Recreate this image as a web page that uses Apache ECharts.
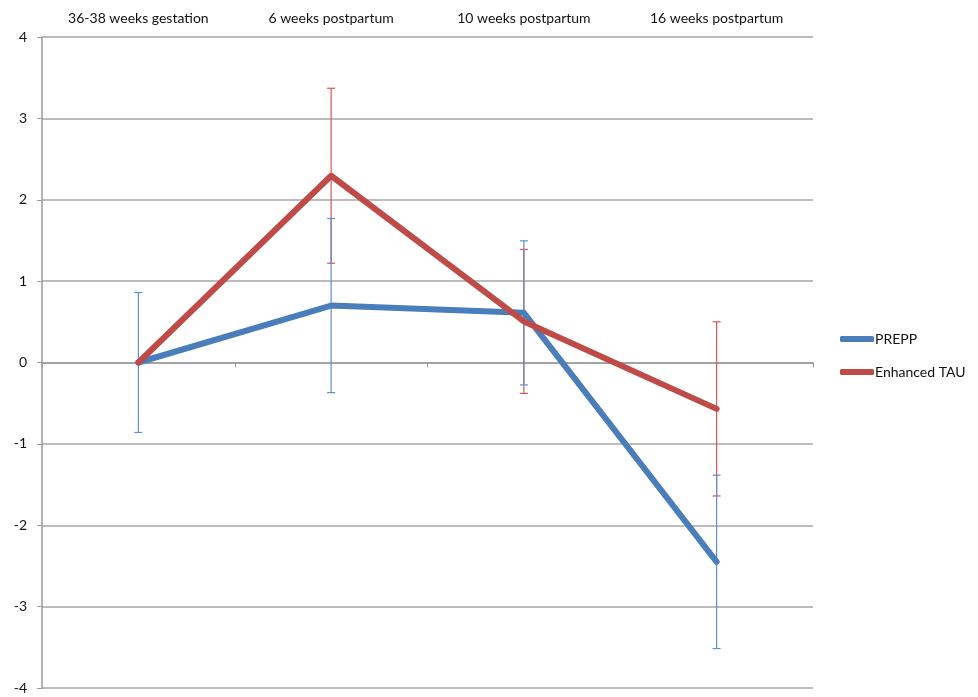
<!DOCTYPE html>
<html>
<head>
<meta charset="utf-8">
<script src="https://cdn.jsdelivr.net/npm/echarts@6/dist/echarts.min.js"></script>
<style>html,body{margin:0;padding:0;background:#fff;}#c{width:978px;height:697px;}</style>
</head>
<body>
<div id="c"></div>
<script>
var categories = ['36-38 weeks gestation', '6 weeks postpartum', '10 weeks postpartum', '16 weeks postpartum'];
var prepp = [0, 0.70, 0.61, -2.45];
var preppErr = [0.86, 1.07, 0.885, 1.065];
var tau = [0, 2.295, 0.505, -0.57];
var tauErr = [null, 1.075, 0.885, 1.07];
var yTicks = [-4, -3, -2, -1, 0, 1, 2, 3, 4];

var FONT = 'Lato, "Open Sans", "Liberation Sans", sans-serif';
var BLUE = '#4A7EBB', RED = '#BE4B48';
var BLUE_E = '#5E8FD0', RED_E = '#DD5555';

function errData(means, errs) {
  var out = [];
  for (var i = 0; i < means.length; i++) {
    if (errs[i] == null) continue;
    out.push([i, means[i] - errs[i], means[i] + errs[i]]);
  }
  return out;
}
function errSeries(name, data, color, z) {
  return {
    type: 'custom', name: name + ' err', xAxisIndex: 0, z: z, silent: true,
    data: data,
    encode: { x: 0, y: [1, 2] },
    renderItem: function (params, api) {
      var lo = api.coord([api.value(0), api.value(1)]);
      var hi = api.coord([api.value(0), api.value(2)]);
      var w = 4;
      var st = { stroke: color, lineWidth: 1.2 };
      return { type: 'group', children: [
        { type: 'line', shape: { x1: lo[0], y1: lo[1], x2: hi[0], y2: hi[1] }, style: st },
        { type: 'line', shape: { x1: lo[0] - w, y1: lo[1], x2: lo[0] + w, y2: lo[1] }, style: st },
        { type: 'line', shape: { x1: hi[0] - w, y1: hi[1], x2: hi[0] + w, y2: hi[1] }, style: st }
      ]};
    }
  };
}

var chart = echarts.init(document.getElementById('c'));
chart.setOption({
  animation: false,
  backgroundColor: '#fff',
  grid: { left: 42, right: 165, top: 37, bottom: 9 },
  legend: {
    orient: 'vertical', left: 835, top: 327, itemGap: 19,
    itemWidth: 34, itemHeight: 6,
    icon: 'roundRect',
    textStyle: { fontFamily: FONT, fontSize: 14, color: '#111', padding: [0, 0, 0, -4] },
    data: ['PREPP', 'Enhanced TAU']
  },
  xAxis: [
    {
      type: 'category', data: categories, boundaryGap: true,
      axisLine: { onZero: true, lineStyle: { color: '#9a9a9a', width: 1.5 } },
      axisTick: { show: true, inside: false, length: 5, lineStyle: { color: '#9a9a9a' } },
      axisLabel: { show: false }, splitLine: { show: false }
    },
    {
      type: 'category', data: categories, position: 'top', boundaryGap: true,
      axisLine: { show: false }, axisTick: { show: false }, splitLine: { show: false },
      axisLabel: { margin: 12, fontFamily: FONT, fontSize: 14, color: '#111' }
    }
  ],
  yAxis: {
    type: 'value', min: yTicks[0], max: yTicks[yTicks.length - 1], interval: 1,
    axisLine: { show: true, lineStyle: { color: '#9a9a9a', width: 1.5 } },
    axisTick: { show: true, length: 5, lineStyle: { color: '#9a9a9a' } },
    axisLabel: { margin: 15, fontFamily: FONT, fontSize: 14, color: '#111' },
    splitLine: { show: true, lineStyle: { color: '#a6a6a6', width: 1.5 } }
  },
  series: [
    errSeries('Enhanced TAU', errData(tau, tauErr), RED_E, 1),
    errSeries('PREPP', errData(prepp, preppErr), BLUE_E, 2),
    { name: 'PREPP', type: 'line', data: prepp, xAxisIndex: 0, z: 3, showSymbol: false, symbol: 'none',
      itemStyle: { color: BLUE }, lineStyle: { color: BLUE, width: 6, cap: 'round', join: 'round' } },
    { name: 'Enhanced TAU', type: 'line', data: tau, xAxisIndex: 0, z: 4, showSymbol: false, symbol: 'none',
      itemStyle: { color: RED }, lineStyle: { color: RED, width: 6, cap: 'round', join: 'round' } }
  ]
});
</script>
</body>
</html>
